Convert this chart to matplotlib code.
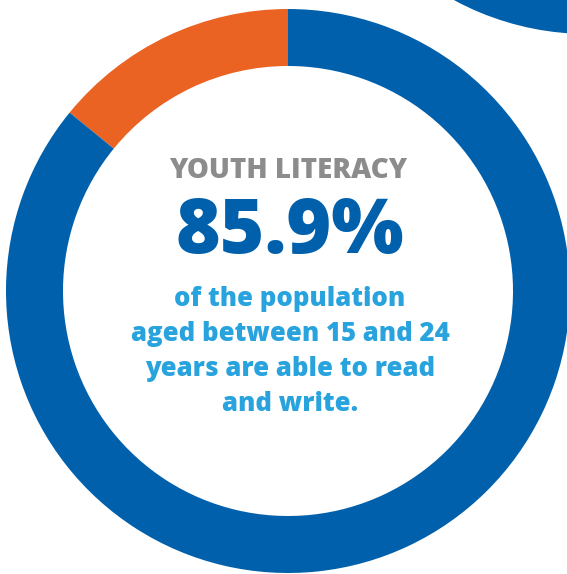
import matplotlib
matplotlib.use("Agg")
import matplotlib.pyplot as plt

# Data
labels = ["Not literate", "Literate"]
shares = [14.1, 85.9]
ring_colors = ["#EB6322", "#0060AC"]

title = "YOUTH LITERACY"
headline = "85.9%"
caption_lines = [
    "of the population",
    "aged between 15 and 24",
    "years are able to read",
    "and write.",
]

W, H = 567, 574
fig = plt.figure(figsize=(W / 100, H / 100), dpi=100)
ax = fig.add_axes([0, 0, 1, 1])

# Main donut
ax.pie(
    shares,
    colors=ring_colors,
    startangle=90,
    counterclock=True,
    radius=282,
    center=(288, H - 291),
    frame=True,
    wedgeprops=dict(width=57, linewidth=0),
)

# Neighbouring donut peeking in at the top-right corner
ax.pie(
    [100],
    colors=["#0060AC"],
    startangle=90,
    radius=282,
    center=(588, H + 248),
    frame=True,
    wedgeprops=dict(width=57, linewidth=0),
)

ax.set_xlim(0, W)
ax.set_ylim(0, H)
ax.set_aspect("equal")
ax.axis("off")

font = "Open Sans"
ax.text(288, H - 177.5, title, ha="center", va="baseline", fontsize=20,
        fontweight=800, color="#8C8C8C", family=font)
ax.text(290, H - 253, headline, ha="center", va="baseline", fontsize=55,
        fontweight=800, color="#0060AC", family=font)
for i, line in enumerate(caption_lines):
    ax.text(290, H - (306 + 35 * i), line, ha="center", va="baseline",
            fontsize=18.5, fontweight=800, color="#29A3DD", family=font)

fig.savefig("out.png", dpi=100)
